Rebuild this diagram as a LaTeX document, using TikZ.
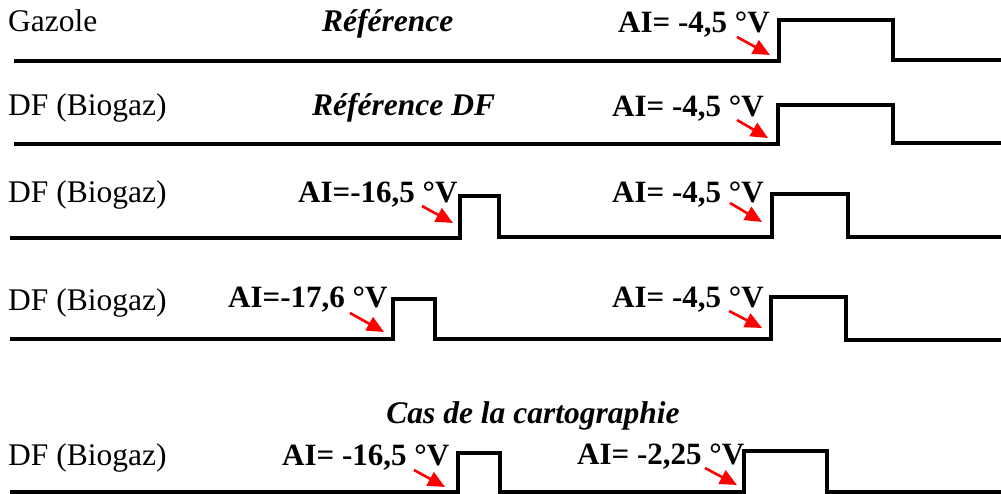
\documentclass[tikz,border=0pt]{standalone}
\usepackage{fontspec}
\setmainfont{Liberation Serif}
\usetikzlibrary{arrows.meta}
\begin{document}
\begin{tikzpicture}[x=1bp,y=-1bp,
  wave/.style={line width=3.4bp, line join=miter},
  redarrow/.style={red, line width=2.6bp, -{Triangle[length=17bp,width=15bp]}},
  lbl/.style={anchor=base west, inner sep=0pt, font=\fontsize{31.5bp}{34bp}\selectfont},
  ai/.style={anchor=base west, inner sep=0pt, font=\fontsize{31bp}{34bp}\selectfont\bfseries},
  ttl/.style={anchor=base west, inner sep=0pt, font=\fontsize{31.5bp}{34bp}\selectfont\bfseries\itshape}]
\useasboundingbox (0,0) rectangle (1001,494);
% Row 1
\node[lbl] (g1) at (8,32) {Gazole};
\node[ttl] (r1) at (322,32) {Référence};
\node[ai] (a1) at (618,33) {AI= -4,5 °V};
\draw[wave] (14,61) -- (779,61) -- (779,20) -- (893,20) -- (893,60) -- (1001,60);
\coordinate (s1) at (737,37); \coordinate (e1) at (770,55);
\draw[redarrow] (s1) -- (e1);
% Row 2
\node[lbl] (g2) at (8,116) {DF (Biogaz)};
\node[ttl] (r2) at (312,116) {Référence DF};
\node[ai] (a2) at (612,117) {AI= -4,5 °V};
\draw[wave] (14,144) -- (778,144) -- (778,105) -- (893,105) -- (893,143) -- (1001,143);
\coordinate (s2) at (737,120); \coordinate (e2) at (768,138);
\draw[redarrow] (s2) -- (e2);
% Row 3
\node[lbl] (g3) at (8,203) {DF (Biogaz)};
\node[ai] (a3a) at (298,203) {AI=-16,5 °V};
\node[ai] (a3b) at (612,203) {AI= -4,5 °V};
\draw[wave] (10,238) -- (460,238) -- (460,196) -- (499,196) -- (499,237) -- (772,237) -- (772,194) -- (848,194) -- (848,237) -- (1001,237);
\coordinate (s3a) at (422,206); \coordinate (e3a) at (453,223);
\coordinate (s3b) at (730,203); \coordinate (e3b) at (762,222);
\draw[redarrow] (s3a) -- (e3a);
\draw[redarrow] (s3b) -- (e3b);
% Row 4
\node[lbl] (g4) at (8,311) {DF (Biogaz)};
\node[ai] (a4a) at (228,308) {AI=-17,6 °V};
\node[ai] (a4b) at (612,308) {AI= -4,5 °V};
\draw[wave] (10,339) -- (393,339) -- (393,299) -- (435,299) -- (435,339) -- (771,339) -- (771,297) -- (846,297) -- (846,340) -- (1001,340);
\coordinate (s4a) at (350,313); \coordinate (e4a) at (384,332);
\coordinate (s4b) at (729,311); \coordinate (e4b) at (762,328);
\draw[redarrow] (s4a) -- (e4a);
\draw[redarrow] (s4b) -- (e4b);
% Row 5
\node[ttl, anchor=base] (cas) at (533,423) {Cas de la cartographie};
\node[lbl] (g5) at (8,465) {DF (Biogaz)};
\node[ai] (a5a) at (282,465) {AI= -16,5 °V};
\node[ai] (a5b) at (577,464) {AI= -2,25 °V};
\draw[wave] (10,492) -- (458,492) -- (458,453) -- (500,453) -- (500,492) -- (744,492) -- (744,451) -- (827,451) -- (827,492) -- (1001,492);
\coordinate (s5a) at (414,470); \coordinate (e5a) at (445,487);
\coordinate (s5b) at (705,468); \coordinate (e5b) at (737,485);
\draw[redarrow] (s5a) -- (e5a);
\draw[redarrow] (s5b) -- (e5b);
\end{tikzpicture}
\end{document}
